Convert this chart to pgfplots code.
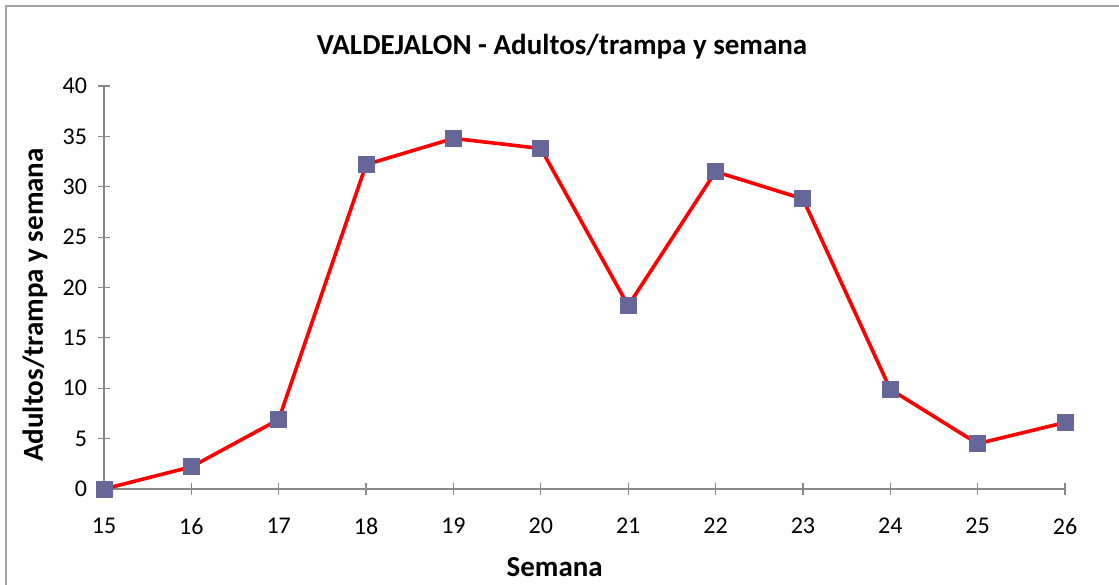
\documentclass[border=0pt]{standalone}
\usepackage{fontspec}
\setmainfont{Carlito}
\usepackage{pgfplots}
\pgfplotsset{compat=1.18}
\definecolor{mk}{HTML}{666699}
\definecolor{ax}{HTML}{898989}
\begin{document}
\begin{tikzpicture}
\path[use as bounding box] (0pt,0pt) rectangle (559.5pt,-292pt);
\draw[color=ax!80, line width=0.8pt] (3pt,-3pt) rectangle (565pt,-300pt);
\begin{axis}[
  at={(52pt,-244.5pt)}, anchor=south west,
  scale only axis, width=480.5pt, height=201.5pt,
  xmin=15, xmax=26, ymin=0, ymax=40,
  xtick={15,...,26}, ytick={0,5,...,40},
  axis x line*=bottom, axis y line*=left,
  axis line style={color=ax, line width=0.6pt},
  tick style={color=ax, line width=0.6pt},
  tick align=center, major tick length=6pt,
  /pgf/number format/assume math mode=true,
  tick label style={font=\fontsize{12}{14}\selectfont, color=black},
  xticklabel style={yshift=-8pt},
  yticklabel style={xshift=-2pt},
  clip=false,
  title={VALDEJALON - Adultos/trampa y semana},
  title style={font=\fontsize{14.5}{17}\selectfont\bfseries, at={(axis description cs:0.4766,1.067)}, anchor=center, yshift=0pt},
  xlabel={Semana},
  xlabel style={font=\fontsize{14.5}{17}\selectfont\bfseries, at={(axis description cs:0.469,-0.1935)}, anchor=center},
  ylabel={Adultos/trampa y semana},
  ylabel style={font=\fontsize{14.5}{17}\selectfont\bfseries, at={(axis description cs:-0.0718,0.4566)}, anchor=center, rotate=0},
]
\addplot[color=red, line width=1.8pt, mark=square*, mark size=4pt, mark options={fill=mk, draw=mk, line width=0pt}]
coordinates {(15,0) (16,2.2) (17,6.9) (18,32.2) (19,34.8) (20,33.8) (21,18.2) (22,31.5) (23,28.8) (24,9.9) (25,4.5) (26,6.6)};
\end{axis}
\end{tikzpicture}
\end{document}
